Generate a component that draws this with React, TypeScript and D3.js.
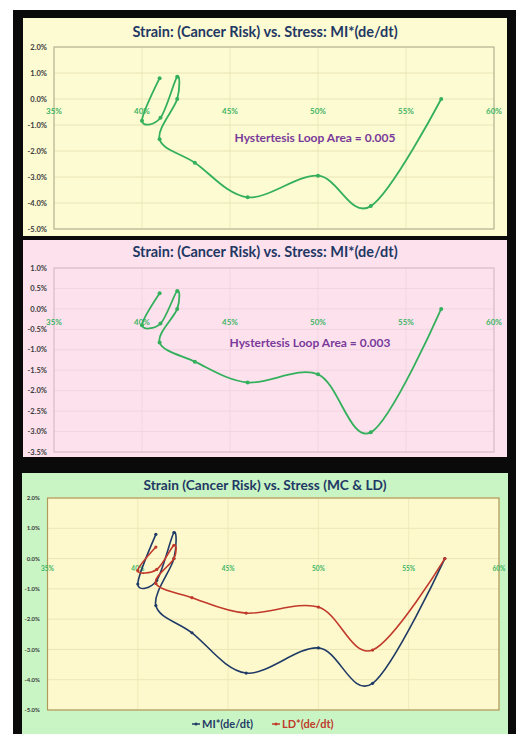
import React from 'react';
import * as d3 from 'd3';

// ---- data (stress in %, strain in %) ----
const stressMI = [41.0, 40.0, 41.05, 42.0, 42.0, 41.0, 43.0, 46.0, 50.0, 53.0, 57.0];
const strainMI = [0.8, -0.84, -0.72, 0.86, 0.0, -1.55, -2.45, -3.78, -2.95, -4.12, 0.0];
const stressLD = [41.0, 40.0, 41.05, 42.0, 42.0, 41.0, 43.0, 46.0, 50.0, 53.0, 57.0];
const strainLD = [0.38, -0.4, -0.36, 0.44, 0.0, -0.82, -1.29, -1.8, -1.6, -3.02, 0.0];

const xTicks = [35, 40, 45, 50, 55, 60];
const yTicksA = [2, 1, 0, -1, -2, -3, -4, -5];
const yTicksB = [1, 0.5, 0, -0.5, -1, -1.5, -2, -2.5, -3, -3.5];

const titleMI = 'Strain: (Cancer Risk) vs. Stress: MI*(de/dt)';
const titleBoth = 'Strain (Cancer Risk) vs. Stress (MC & LD)';
const noteMI = 'Hystertesis Loop Area = 0.005';
const noteLD = 'Hystertesis Loop Area = 0.003';
const legendLabels = ['MI*(de/dt)', 'LD*(de/dt)'];

const FONT = 'Lato, "Open Sans", sans-serif';
const pct = (v: number) => (v < 0 ? '-' : '') + Math.abs(v).toFixed(1) + '%';

type Series = { xs: number[]; ys: number[]; color: string; width: number; r: number };

type PanelProps = {
  box: [number, number, number, number];
  bg: string;
  plot: [number, number, number, number]; // left, right, top, bottom
  plotBg?: string;
  plotBorder: string;
  gridColor: string;
  yDomain: [number, number];
  yTicks: number[];
  yFont: number;
  yLabelX: number;
  xFont: number;
  xOff: number;
  title: string;
  titleY: number;
  titleSize: number;
  note?: string;
  noteXY?: [number, number];
  series: Series[];
};

function Panel(p: PanelProps) {
  const [bx, by, bw, bh] = p.box;
  const [l, r, t, b] = p.plot;
  const x = d3.scaleLinear().domain([35, 60]).range([l, r]);
  const y = d3.scaleLinear().domain(p.yDomain).range([b, t]);
  return (
    <g>
      <rect x={bx} y={by} width={bw} height={bh} fill={p.bg} />
      {p.plotBg && <rect x={l} y={t} width={r - l} height={b - t} fill={p.plotBg} />}
      {xTicks.map((v) => (
        <line key={'vx' + v} x1={x(v)} x2={x(v)} y1={t} y2={b} stroke={p.gridColor} strokeWidth={0.8} />
      ))}
      {p.yTicks.map((v) => (
        <line key={'hy' + v} x1={l} x2={r} y1={y(v)} y2={y(v)} stroke={p.gridColor} strokeWidth={1} />
      ))}
      <rect x={l} y={t} width={r - l} height={b - t} fill="none" stroke={p.plotBorder} strokeWidth={1.2} />
      {p.yTicks.map((v) => (
        <text key={'yl' + v} x={p.yLabelX} y={y(v)} dy="0.35em" textAnchor="end" fontFamily={FONT}
          fontWeight="bold" fontSize={p.yFont} fill="#3a3a3a">{pct(v)}</text>
      ))}
      {xTicks.map((v) => (
        <text key={'xl' + v} x={x(v)} y={y(0) + p.xOff} dy="0.35em" textAnchor="middle" fontFamily={FONT}
          fontWeight="bold" fontSize={p.xFont} fill="#3cb464">{v + '%'}</text>
      ))}
      {p.series.map((s, i) => {
        const pts: [number, number][] = s.xs.map((v, k) => [x(v), y(s.ys[k])]);
        const path = d3.line().curve(d3.curveCatmullRom.alpha(0))(pts) || '';
        return (
          <g key={'s' + i}>
            <path d={path} fill="none" stroke={s.color} strokeWidth={s.width} strokeLinejoin="round" />
            {pts.map((pt, k) => (
              <circle key={k} cx={pt[0]} cy={pt[1]} r={s.r} fill={s.color} />
            ))}
          </g>
        );
      })}
      <text x={bx + bw / 2} y={p.titleY} dy="0.35em" textAnchor="middle" fontFamily={FONT} fontWeight="bold"
        fontSize={p.titleSize} fill="#1f3864">{p.title}</text>
      {p.note && p.noteXY && (
        <text x={p.noteXY[0]} y={p.noteXY[1]} dy="0.35em" textAnchor="middle" fontFamily={FONT} fontWeight="bold"
          fontSize={12} fill="#7a3a9a">{p.note}</text>
      )}
    </g>
  );
}

export default function App() {
  const green = '#34b05c';
  const navy = '#1f3a66';
  const red = '#c0392b';
  return (
    <svg width={518} height={734} style={{ position: 'absolute', left: 0, top: 0 }}>
      <rect x={0} y={0} width={518} height={734} fill="#ffffff" />
      <rect x={13} y={10} width={503} height={724} fill="#0a0a0a" />
      <Panel
        box={[23, 18, 484, 218]}
        bg="#fdfbd2"
        plot={[54, 494, 47, 229]}
        plotBorder="#b8b69a"
        gridColor="#e9e4b4"
        yDomain={[-5, 2]}
        yTicks={yTicksA}
        yFont={7.5}
        yLabelX={47}
        xFont={8}
        xOff={12}
        title={titleMI}
        titleY={32}
        titleSize={14.5}
        note={noteMI}
        noteXY={[315, 138]}
        series={[{ xs: stressMI, ys: strainMI, color: green, width: 1.8, r: 2 }]}
      />
      <Panel
        box={[23, 240, 484, 217]}
        bg="#fde2ee"
        plot={[54, 494, 268, 452]}
        plotBorder="#d8c0cc"
        gridColor="#f3d3e0"
        yDomain={[-3.5, 1]}
        yTicks={yTicksB}
        yFont={7.5}
        yLabelX={47}
        xFont={8}
        xOff={13}
        title={titleMI}
        titleY={252}
        titleSize={14.5}
        note={noteLD}
        noteXY={[310, 343]}
        series={[{ xs: stressLD, ys: strainLD, color: green, width: 1.8, r: 2 }]}
      />
      <Panel
        box={[22, 473, 486, 261]}
        bg="#c9f5c4"
        plot={[47.5, 499, 498, 710]}
        plotBg="#fdf9cc"
        plotBorder="#b09a5a"
        gridColor="#ece6b6"
        yDomain={[-5, 2]}
        yTicks={yTicksA}
        yFont={6}
        yLabelX={40}
        xFont={6.5}
        xOff={10}
        title={titleBoth}
        titleY={485}
        titleSize={13.7}
        series={[
          { xs: stressMI, ys: strainMI, color: navy, width: 1.6, r: 1.6 },
          { xs: stressLD, ys: strainLD, color: red, width: 1.6, r: 1.6 },
        ]}
      />
      {/* legend */}
      {legendLabels.map((lab, i) => {
        const lx = i === 0 ? 192 : 272;
        const c = i === 0 ? navy : red;
        return (
          <g key={lab}>
            <line x1={lx} x2={lx + 8} y1={724} y2={724} stroke={c} strokeWidth={1.5} />
            <circle cx={lx + 4} cy={724} r={1.5} fill={c} />
            <text x={lx + 10} y={724} dy="0.35em" fontFamily={FONT} fontWeight="bold" fontSize={11} fill={c}>{lab}</text>
          </g>
        );
      })}
    </svg>
  );
}
